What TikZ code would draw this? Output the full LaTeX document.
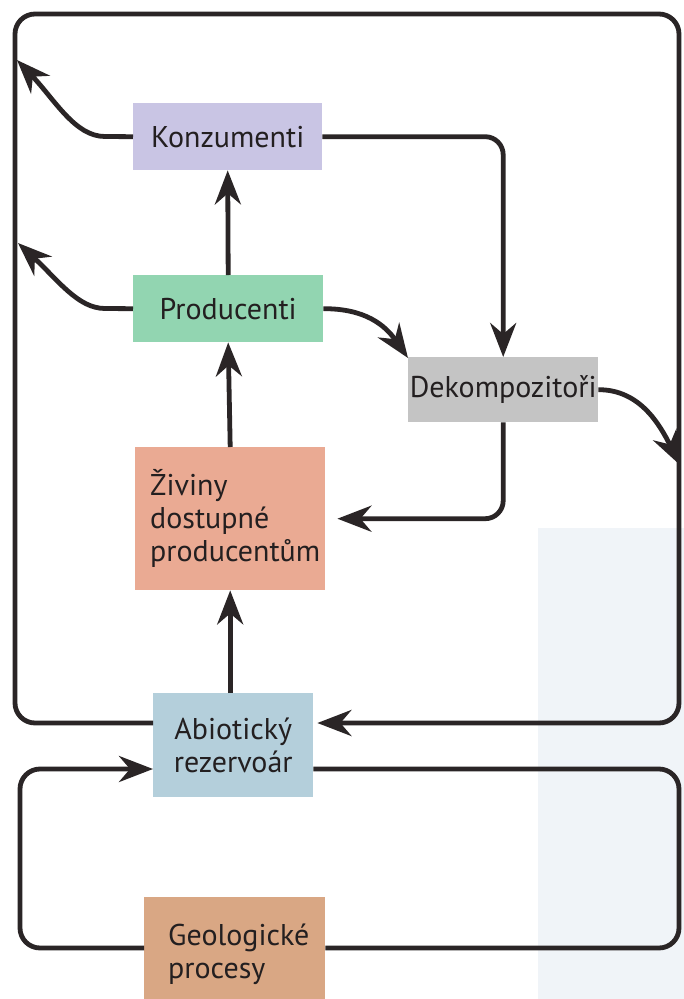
\documentclass[tikz,border=0pt]{standalone}
\usepackage{fontspec}
\setmainfont{PT Sans}
\usetikzlibrary{arrows.meta}
\definecolor{ln}{HTML}{2A2526}
\definecolor{txt}{HTML}{231F20}
\definecolor{ckonz}{HTML}{C9C5E4}
\definecolor{cprod}{HTML}{92D5B1}
\definecolor{cdeko}{HTML}{C4C4C4}
\definecolor{cziv}{HTML}{EAAA93}
\definecolor{cabio}{HTML}{B4CFDB}
\definecolor{cgeo}{HTML}{D9A784}
\definecolor{cpale}{HTML}{F0F4F8}
\begin{document}
\begin{tikzpicture}[x=1pt,y=-1pt,
  box/.style={rectangle, inner sep=0pt, text=txt, font=\fontsize{30}{33}\selectfont, anchor=north west},
  conn/.style={line width=4.8pt, draw=ln, line cap=butt, line join=round},
  arr/.style={conn, -{Stealth[length=34pt,width=26pt,inset=11pt]}}]
\useasboundingbox (0,0) rectangle (684,999);
\fill[white] (0,0) rectangle (684,999);
\fill[cpale] (538,528) rectangle (684,999);

% boxes
\node[box, fill=ckonz, minimum width=189pt, minimum height=67pt] (konz) at (133,103) {Konzumenti};
\node[box, fill=cprod, minimum width=190pt, minimum height=67pt] (prod) at (133,275) {Producenti};
\node[box, fill=cdeko, minimum width=190pt, minimum height=65pt] (deko) at (408,357) {Dekompozitoři};
\node[box, fill=cziv, minimum width=190pt, minimum height=143pt, text width=160pt, inner xsep=15pt, align=left] (ziv) at (135,447) {Živiny\\dostupné\\producentům};
\node[box, fill=cabio, minimum width=160pt, minimum height=104pt, align=center] (abio) at (153,693) {Abiotický\\rezervoár};
\node[box, fill=cgeo, minimum width=181pt, minimum height=115pt, text width=133pt, inner xsep=22pt, align=left] (geo) at (144,897) {Geologické\\procesy};

% free ends and corners
\coordinate (kt) at (17,60);
\coordinate (pt) at (18,243);
\coordinate (dt) at (680,465);
\coordinate (pdt) at (408,358);
\coordinate (otl) at (15,14);
\coordinate (otr) at (679,14);
\coordinate (obl) at (15,723);
\coordinate (obr) at (679,723);
\coordinate (ltl) at (20,769);
\coordinate (ltr) at (679,769);
\coordinate (lbr) at (679,948);
\coordinate (lbl) at (20,948);
\coordinate (abioR) at ([xshift=4pt]abio.east);

% vertical chain
\draw[arr] (prod.north) -- (konz.south);
\draw[arr] (ziv.north) -- (prod.south);
\draw[arr] (abio.north -| ziv.south) -- (ziv.south);

% curved arrows
\draw[arr] (konz.west) -- (105,136.5) .. controls (75,136.5) and (55,100) .. (kt);
\draw[arr] (prod.west) -- (105,308.5) .. controls (78,308.5) and (58,280) .. (pt);
\draw[arr] (prod.east) .. controls (365,308.5) and (385,325) .. (pdt);
\draw[arr] (deko.east) .. controls (640,389.5) and (660,425) .. (dt);

% elbows
\draw[arr, rounded corners=18pt] (konz.east) -| (deko.north);
\draw[arr, rounded corners=18pt, shorten >=12pt] (deko.south) |- (ziv.east);

% outer loop
\draw[arr, rounded corners=20pt] (abio.west |- obl) -- (obl) -- (otl) -- (otr) -- (obr) -- (abioR |- obr);

% lower loop
\draw[conn, rounded corners=20pt] (abio.east |- ltr) -- (ltr) -- (lbr) -- (geo.east |- lbr);
\draw[arr, rounded corners=20pt] (geo.west |- lbl) -- (lbl) -- (ltl) -- (abio.west |- ltl);
\end{tikzpicture}
\end{document}
